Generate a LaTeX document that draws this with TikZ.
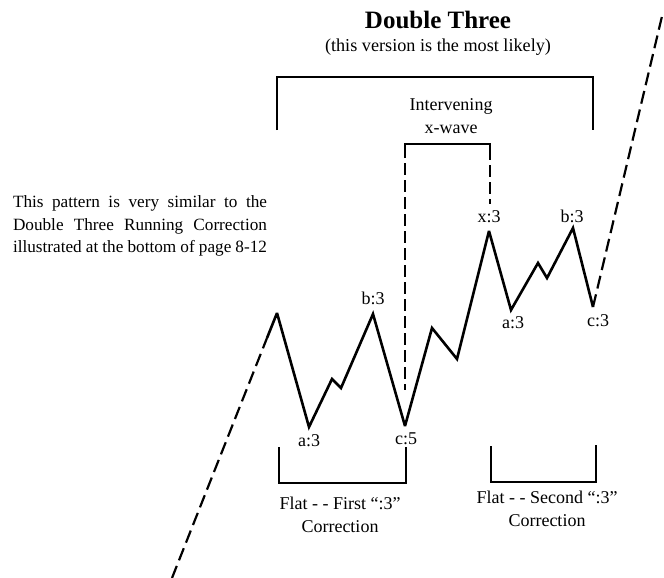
\documentclass[tikz,border=0pt]{standalone}
\usepackage{fontspec}
\setmainfont{Liberation Serif}
\usetikzlibrary{positioning}

\begin{document}
\begin{tikzpicture}[x=1pt,y=-1pt,
   wave/.style={line width=2.6pt,miter limit=3},
   lead/.style={line width=2.2pt,dash pattern=on 13pt off 6pt},
   brace/.style={line width=1.7pt},
   xbrace/.style={line width=1.8pt,dash pattern=on 12pt off 5pt},
   lbl/.style={font=\fontsize{18}{20}\selectfont,inner sep=1pt},
   bracelabel/.style={align=center,font=\fontsize{18}{23}\selectfont}]
  \useasboundingbox (0,0) rectangle (664,578);
  \node[font=\bfseries\fontsize{25}{28}\selectfont] (title) at (438,20) {Double Three};
  \node[font=\fontsize{18.2}{20}\selectfont] (sub) at (438,47) {(this version is the most likely)};
  \node[text width=254pt,align=justify,inner sep=0pt,font=\fontsize{17.2}{22.5}\selectfont] (note) at (140,226)
    {\hyphenpenalty=10000 This pattern is very similar to the\linebreak Double Three Running Correction\linebreak illustrated at the bottom of page 8-12};
  % the wave
  \coordinate (s0) at (172,578);
  \coordinate (s1) at (267,338);
  \coordinate (w0) at (277,313);
  \coordinate (a1) at (309,427);
  \coordinate (m1) at (332,379);
  \coordinate (n1) at (341,388);
  \coordinate (b1) at (373,314);
  \coordinate (c1) at (405,426);
  \coordinate (m2) at (432,328);
  \coordinate (n2) at (457,359);
  \coordinate (x1) at (489,231);
  \coordinate (a2) at (511,310);
  \coordinate (m3) at (538,263);
  \coordinate (n3) at (547,278);
  \coordinate (b2) at (573,228);
  \coordinate (c2) at (593,307);
  \coordinate (e0) at (663,12);
  \draw[lead] (s0) -- (s1);
  \draw[wave] (s1) -- (w0) -- (a1) -- (m1) -- (n1) -- (b1) -- (c1) -- (m2) -- (n2)
    -- (x1) -- (a2) -- (m3) -- (n3) -- (b2) -- (c2);
  \draw[lead] (c2) -- (e0);
  \node[lbl] (la1) at (309,441) {a:3};
  \node[lbl] (lb1) at (373,298) {b:3};
  \node[lbl] (lc1) at (406,439) {c:5};
  \node[lbl] (lx1) at (489,217) {x:3};
  \node[lbl] (la2) at (513,323) {a:3};
  \node[lbl] (lb2) at (572,216) {b:3};
  \node[lbl] (lc2) at (598,321) {c:3};
  % brackets
  \draw[brace] (277,130) -- (277,77) -- (593,77) -- (593,130);
  \node[bracelabel] (xw) at (451,116) {Intervening\\x-wave};
  \draw[brace] (405,158) -- (405,144) -- (490,144) -- (490,160);
  \draw[xbrace] (405,163) -- (405,390);
  \draw[xbrace] (490,165) -- (490,204);
  \draw[brace] (279,447) -- (279,483) -- (406,483) -- (406,447);
  \draw[brace] (491,446) -- (491,482) -- (596,482) -- (596,445);
  \node[bracelabel] (flat1) at (340,515) {Flat - - First “:3”\\Correction};
  \node[bracelabel] (flat2) at (547,509) {Flat - - Second “:3”\\Correction};
\end{tikzpicture}
\end{document}
